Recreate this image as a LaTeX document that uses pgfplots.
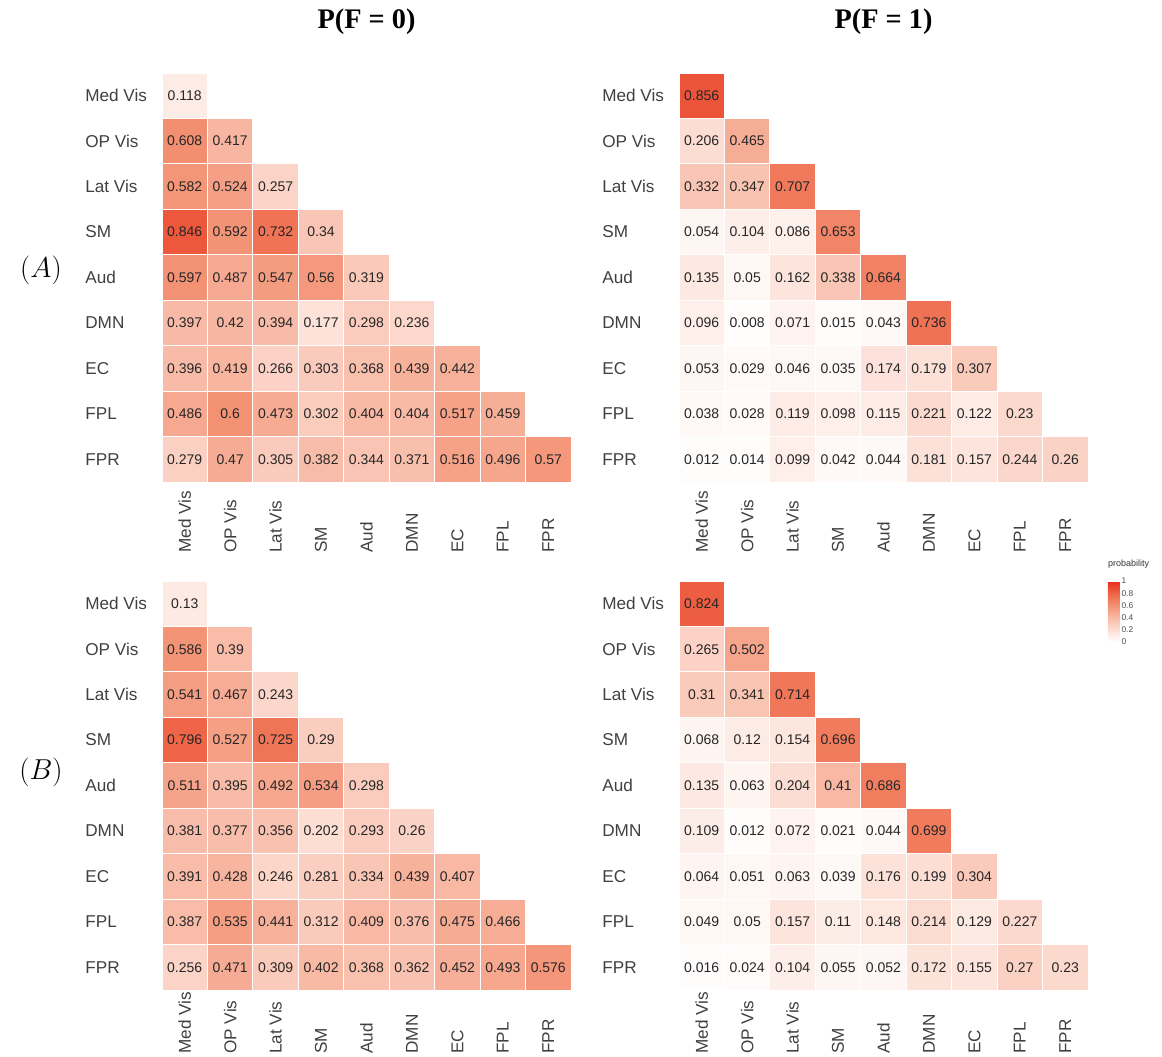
\documentclass[border=0pt]{standalone}
\usepackage{fontspec}
\setmainfont{Liberation Sans}
\newfontfamily\titlefont{Liberation Serif}
\usepackage{pgfplots}
\usepackage{pgfplotstable}
\pgfplotsset{compat=1.18}

\pgfplotstableread{
x y v
0 0 0.118
0 1 0.608
1 1 0.417
0 2 0.582
1 2 0.524
2 2 0.257
0 3 0.846
1 3 0.592
2 3 0.732
3 3 0.34
0 4 0.597
1 4 0.487
2 4 0.547
3 4 0.56
4 4 0.319
0 5 0.397
1 5 0.42
2 5 0.394
3 5 0.177
4 5 0.298
5 5 0.236
0 6 0.396
1 6 0.419
2 6 0.266
3 6 0.303
4 6 0.368
5 6 0.439
6 6 0.442
0 7 0.486
1 7 0.6
2 7 0.473
3 7 0.302
4 7 0.404
5 7 0.404
6 7 0.517
7 7 0.459
0 8 0.279
1 8 0.47
2 8 0.305
3 8 0.382
4 8 0.344
5 8 0.371
6 8 0.516
7 8 0.496
8 8 0.57
}\tabAzero

\pgfplotstableread{
x y v
0 0 0.856
0 1 0.206
1 1 0.465
0 2 0.332
1 2 0.347
2 2 0.707
0 3 0.054
1 3 0.104
2 3 0.086
3 3 0.653
0 4 0.135
1 4 0.05
2 4 0.162
3 4 0.338
4 4 0.664
0 5 0.096
1 5 0.008
2 5 0.071
3 5 0.015
4 5 0.043
5 5 0.736
0 6 0.053
1 6 0.029
2 6 0.046
3 6 0.035
4 6 0.174
5 6 0.179
6 6 0.307
0 7 0.038
1 7 0.028
2 7 0.119
3 7 0.098
4 7 0.115
5 7 0.221
6 7 0.122
7 7 0.23
0 8 0.012
1 8 0.014
2 8 0.099
3 8 0.042
4 8 0.044
5 8 0.181
6 8 0.157
7 8 0.244
8 8 0.26
}\tabAone

\pgfplotstableread{
x y v
0 0 0.13
0 1 0.586
1 1 0.39
0 2 0.541
1 2 0.467
2 2 0.243
0 3 0.796
1 3 0.527
2 3 0.725
3 3 0.29
0 4 0.511
1 4 0.395
2 4 0.492
3 4 0.534
4 4 0.298
0 5 0.381
1 5 0.377
2 5 0.356
3 5 0.202
4 5 0.293
5 5 0.26
0 6 0.391
1 6 0.428
2 6 0.246
3 6 0.281
4 6 0.334
5 6 0.439
6 6 0.407
0 7 0.387
1 7 0.535
2 7 0.441
3 7 0.312
4 7 0.409
5 7 0.376
6 7 0.475
7 7 0.466
0 8 0.256
1 8 0.471
2 8 0.309
3 8 0.402
4 8 0.368
5 8 0.362
6 8 0.452
7 8 0.493
8 8 0.576
}\tabBzero

\pgfplotstableread{
x y v
0 0 0.824
0 1 0.265
1 1 0.502
0 2 0.31
1 2 0.341
2 2 0.714
0 3 0.068
1 3 0.12
2 3 0.154
3 3 0.696
0 4 0.135
1 4 0.063
2 4 0.204
3 4 0.41
4 4 0.686
0 5 0.109
1 5 0.012
2 5 0.072
3 5 0.021
4 5 0.044
5 5 0.699
0 6 0.064
1 6 0.051
2 6 0.063
3 6 0.039
4 6 0.176
5 6 0.199
6 6 0.304
0 7 0.049
1 7 0.05
2 7 0.157
3 7 0.11
4 7 0.148
5 7 0.214
6 7 0.129
7 7 0.227
0 8 0.016
1 8 0.024
2 8 0.104
3 8 0.055
4 8 0.052
5 8 0.172
6 8 0.155
7 8 0.27
8 8 0.23
}\tabBone

\pgfplotsset{
  /pgf/number format/assume math mode=true,
  colormap={prob}{rgb255=(255,255,255) rgb255=(252,222,212) rgb255=(248,186,166) rgb255=(243,145,115) rgb255=(238,100,70) rgb255=(232,45,28)},
  hm/.style={
    scale only axis, width=245.4pt, height=245.4pt,
    xmin=-0.5, xmax=8.5, ymin=-0.5, ymax=8.5, y dir=reverse,
    xtick={0,...,8}, ytick={0,...,8},
    xticklabels={Med Vis,OP Vis,Lat Vis,SM,Aud,DMN,EC,FPL,FPR},
    yticklabels={Med Vis,OP Vis,Lat Vis,SM,Aud,DMN,EC,FPL,FPR},
    axis line style={draw=none}, major tick length=0pt, tick style={draw=none},
    xticklabel style={rotate=90, anchor=west, inner sep=0pt, font=\fontsize{10.3}{12}\selectfont, text=black!75},
    xticklabel shift=42.6pt,
    yticklabel style={anchor=west, inner sep=0pt, font=\fontsize{10.3}{12}\selectfont, text=black!75},
    yticklabel shift=46.2pt,
    point meta min=0, point meta max=1,
    clip=false,
  },
  hmplot/.style={
    scatter, only marks, mark=square*, mark size=13.63pt, line width=0.5pt,
    scatter/use mapped color={draw=white, fill=mapped color},
    point meta=explicit,
    nodes near coords*={\pgfmathprintnumber[fixed,precision=3]{\pgfplotspointmeta}},
    every node near coord/.append style={anchor=center, inner sep=0pt, font=\fontsize{8.4}{10}\selectfont, text=black!85},
  },
}

\begin{document}
\begin{tikzpicture}
\path[use as bounding box] (0,0) rectangle (697.2pt,-634.2pt);

\node[font={\titlefont\bfseries\fontsize{17}{20}\selectfont}] at (219.9pt,-13.2pt) {P(F = 0)};
\node[font={\titlefont\bfseries\fontsize{17}{20}\selectfont}] at (530.1pt,-13.2pt) {P(F = 1)};
\node[font=\fontsize{17}{20}\selectfont] at (24.6pt,-162pt) {$(A)$};
\node[font=\fontsize{17}{20}\selectfont] at (24.6pt,-463.2pt) {$(B)$};

\begin{axis}[hm, at={(97.2pt,-289.2pt)}, anchor=south west]
\addplot[hmplot] table[x=x, y=y, meta=v] {\tabAzero};
\end{axis}

\begin{axis}[hm, at={(407.4pt,-289.2pt)}, anchor=south west]
\addplot[hmplot] table[x=x, y=y, meta=v] {\tabAone};
\end{axis}

\begin{axis}[hm, at={(97.2pt,-594pt)}, anchor=south west, xticklabel shift=38.4pt]
\addplot[hmplot] table[x=x, y=y, meta=v] {\tabBzero};
\end{axis}

\begin{axis}[hm, at={(407.4pt,-594pt)}, anchor=south west, xticklabel shift=38.4pt,
  colorbar,
  colorbar style={
    at={(parent axis.north east)}, anchor=north west, xshift=3.4pt,
    width=7.2pt, height=36.6pt,
    ytick={0,0.2,0.4,0.6,0.8,1},
    yticklabels={0,0.2,0.4,0.6,0.8,1},
    yticklabel style={font=\fontsize{5}{6}\selectfont, inner sep=0.8pt, text=black!70},
    axis line style={draw=none}, major tick length=0pt,
    title={probability},
    title style={at={(0,1)}, anchor=south west, inner sep=0pt, yshift=1.5pt, font=\fontsize{5.4}{7}\selectfont, text=black!80},
  }]
\addplot[hmplot] table[x=x, y=y, meta=v] {\tabBone};
\end{axis}
\end{tikzpicture}
\end{document}
